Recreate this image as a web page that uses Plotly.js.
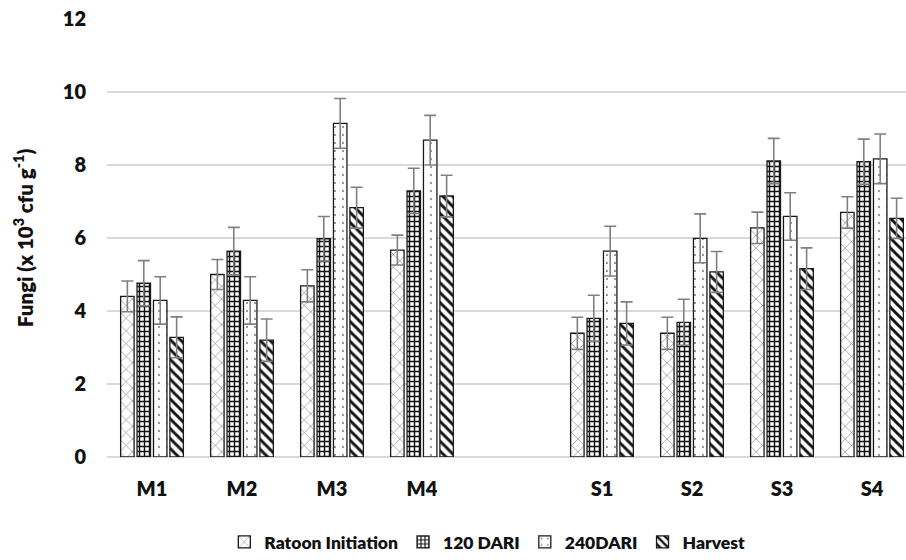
<!DOCTYPE html>
<html>
<head>
<meta charset="utf-8">
<script src="https://cdn.plot.ly/plotly-3.0.1.min.js"></script>
<style>html,body{margin:0;padding:0;background:#fff;}#chart{width:906px;height:560px;}</style>
</head>
<body>
<div id="chart"></div>
<script>
// Categories (a blank spacer separates the M and S groups)
const categories = ["M1", "M2", "M3", "M4", " ", "S1", "S2", "S3", "S4"];
const seriesNames = ["Ratoon Initiation", "120 DARI", "240DARI", "Harvest"];

const ratoon     = [4.40, 5.00, 4.69, 5.67, null, 3.39, 3.39, 6.28, 6.70];
const ratoonErr  = [0.42, 0.41, 0.44, 0.41, null, 0.44, 0.44, 0.43, 0.43];
const dari120    = [4.76, 5.64, 5.98, 7.29, null, 3.80, 3.69, 8.11, 8.09];
const dari120Err = [0.62, 0.65, 0.61, 0.62, null, 0.63, 0.63, 0.62, 0.62];
const dari240    = [4.29, 4.29, 9.14, 8.68, null, 5.64, 5.99, 6.59, 8.17];
const dari240Err = [0.65, 0.65, 0.68, 0.68, null, 0.68, 0.67, 0.65, 0.68];
const harvest    = [3.28, 3.20, 6.83, 7.15, null, 3.66, 5.07, 5.16, 6.54];
const harvestErr = [0.56, 0.58, 0.56, 0.57, null, 0.59, 0.56, 0.57, 0.55];

const values = [ratoon, dari120, dari240, harvest];
const errors = [ratoonErr, dari120Err, dari240Err, harvestErr];
const patterns = [
  {shape: "x", fgcolor: "#6e6e6e", bgcolor: "#ffffff", size: 9, solidity: 0.12},
  {shape: "+", fgcolor: "#111111", bgcolor: "#ffffff", size: 5, solidity: 0.5},
  {shape: ".", fgcolor: "#777777", bgcolor: "#ffffff", size: 8, solidity: 0.05},
  {shape: "\\", fgcolor: "#111111", bgcolor: "#ffffff", size: 7, solidity: 0.42}
];

const traces = seriesNames.map((name, i) => ({
  type: "bar",
  name: name,
  x: categories,
  y: values[i],
  marker: {
    color: "#ffffff",
    pattern: patterns[i],
    line: {color: "#1a1a1a", width: 1.3}
  },
  error_y: {type: "data", array: errors[i], visible: true, color: "#808080", thickness: 1.6, width: 6}
}));

const font = "Lato, 'Open Sans', sans-serif";
const textColor = "#111111";
const layout = {
  width: 906, height: 560,
  margin: {l: 107, r: 0, t: 19, b: 99},
  paper_bgcolor: "#ffffff", plot_bgcolor: "#ffffff",
  barmode: "group",
  bargap: 0.27,
  bargroupgap: 0.18,
  showlegend: true,
  legend: {
    orientation: "h", x: 0.476, xanchor: "center", y: -0.195, yanchor: "middle",
    font: {family: font, size: 17.5, color: textColor, weight: 800},
    itemwidth: 30, traceorder: "normal"
  },
  xaxis: {
    type: "category",
    categoryorder: "array", categoryarray: categories,
    range: [-0.5, 8.378],
    showgrid: false, zeroline: false,
    showline: false,
    ticks: "", ticklabelstandoff: 18,
    tickfont: {family: font, size: 20, color: textColor, weight: 800}
  },
  yaxis: {
    range: [0, 12], tickvals: [0, 2, 4, 6, 8, 10, 12],
    showgrid: true, gridcolor: "#d9d9d9", gridwidth: 1.5,
    zeroline: true, zerolinecolor: "#d9d9d9", zerolinewidth: 1.5,
    showline: false, ticks: "", ticklabelstandoff: 20,
    tickfont: {family: font, size: 20, color: textColor, weight: 800},
    title: {
      text: "Fungi (x 10<sup>3</sup> cfu g<sup>-1</sup>)",
      font: {family: font, size: 20.5, color: textColor, weight: 800},
      standoff: 23
    }
  }
};

Plotly.newPlot("chart", traces, layout, {displayModeBar: false, staticPlot: true});
</script>
</body>
</html>
